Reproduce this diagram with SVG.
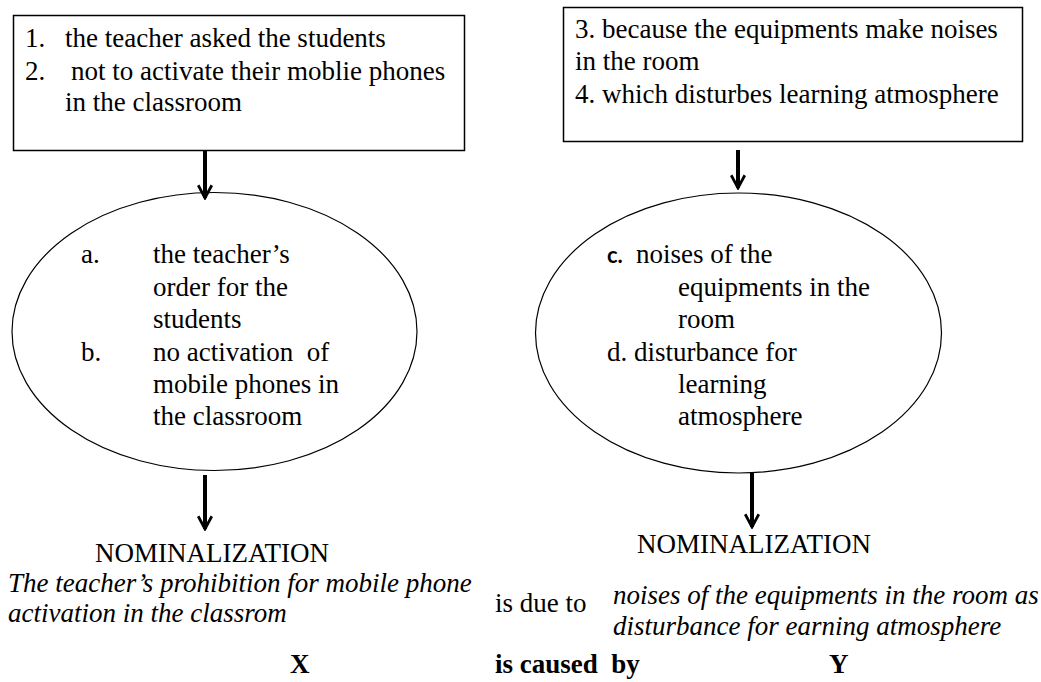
<svg xmlns="http://www.w3.org/2000/svg" width="1041" height="682" viewBox="0 0 1041 682">
<defs>
<marker id="ah" viewBox="0 0 10 10" refX="9" refY="5" markerWidth="17" markerHeight="17" markerUnits="userSpaceOnUse" orient="auto">
<path d="M1.5,1 L9,5 L1.5,9" fill="none" stroke="#000" stroke-width="1.6"/>
</marker>
</defs>
<style>
text{font-family:"Liberation Serif","Times New Roman",serif;font-size:27px;fill:#000}
.it{font-style:italic}
.b{font-weight:bold}
.sans{font-family:Lato,"Liberation Sans",sans-serif;font-weight:bold;font-size:22px}
.box{fill:#fff;stroke:#000;stroke-width:1.5}
.ell{fill:#fff;stroke:#000;stroke-width:1.2}
.arr{stroke:#000;stroke-width:4;fill:none}
</style>
<rect width="1041" height="682" fill="#fff"/>
<g id="box1">
<rect class="box" x="13.5" y="15.5" width="451" height="135"/>
<text x="25" y="47">1.</text><text x="65" y="47">the teacher asked the students</text>
<text x="25" y="80">2.</text><text x="71" y="80">not to activate their moblie phones</text>
<text x="65" y="111">in the classroom</text>
</g>
<g id="box2">
<rect class="box" x="563.5" y="7.5" width="459" height="134"/>
<text x="575" y="38">3. because the equipments make noises</text>
<text x="575" y="70">in the room</text>
<text x="575" y="103">4. which disturbes learning atmosphere</text>
</g>
<g id="ellipse1">
<ellipse class="ell" cx="214.5" cy="331.5" rx="202.5" ry="139"/>
<text x="81" y="263">a.</text><text x="153" y="263">the teacher’s</text>
<text x="153" y="296">order for the</text>
<text x="153" y="328">students</text>
<text x="81" y="361">b.</text><text x="153" y="361" xml:space="preserve">no activation  of</text>
<text x="153" y="393">mobile phones in</text>
<text x="153" y="425">the classroom</text>
</g>
<g id="ellipse2">
<ellipse class="ell" cx="738.5" cy="333" rx="203" ry="140"/>
<text class="sans" x="607" y="263">c.</text><text x="636" y="263">noises of the</text>
<text x="678" y="296">equipments in the</text>
<text x="678" y="328">room</text>
<text x="607" y="361">d. disturbance for</text>
<text x="678" y="393">learning</text>
<text x="678" y="425">atmosphere</text>
</g>
<g id="result1">
<text x="95" y="562">NOMINALIZATION</text>
<text class="it" x="8" y="592">The teacher’s prohibition for mobile phone</text>
<text class="it" x="8" y="622">activation in the classrom</text>
</g>
<g id="link">
<text x="495" y="612">is due to</text>
</g>
<g id="result2">
<text x="637" y="553">NOMINALIZATION</text>
<text class="it" x="613" y="604">noises of the equipments in the room as</text>
<text class="it" x="613" y="635">disturbance for earning atmosphere</text>
</g>
<g id="bottom">
<text class="b" x="290" y="673">X</text>
<text class="b" x="495" y="673" xml:space="preserve">is caused  by</text>
<text class="b" x="829" y="673">Y</text>
</g>
<g id="connectors">
<line class="arr" x1="205" y1="151" x2="205" y2="198" marker-end="url(#ah)"/>
<line class="arr" x1="205" y1="475" x2="205" y2="529" marker-end="url(#ah)"/>
<line class="arr" x1="738" y1="150" x2="738" y2="188" marker-end="url(#ah)"/>
<line class="arr" x1="752" y1="473" x2="752" y2="527" marker-end="url(#ah)"/>
</g>
</svg>
